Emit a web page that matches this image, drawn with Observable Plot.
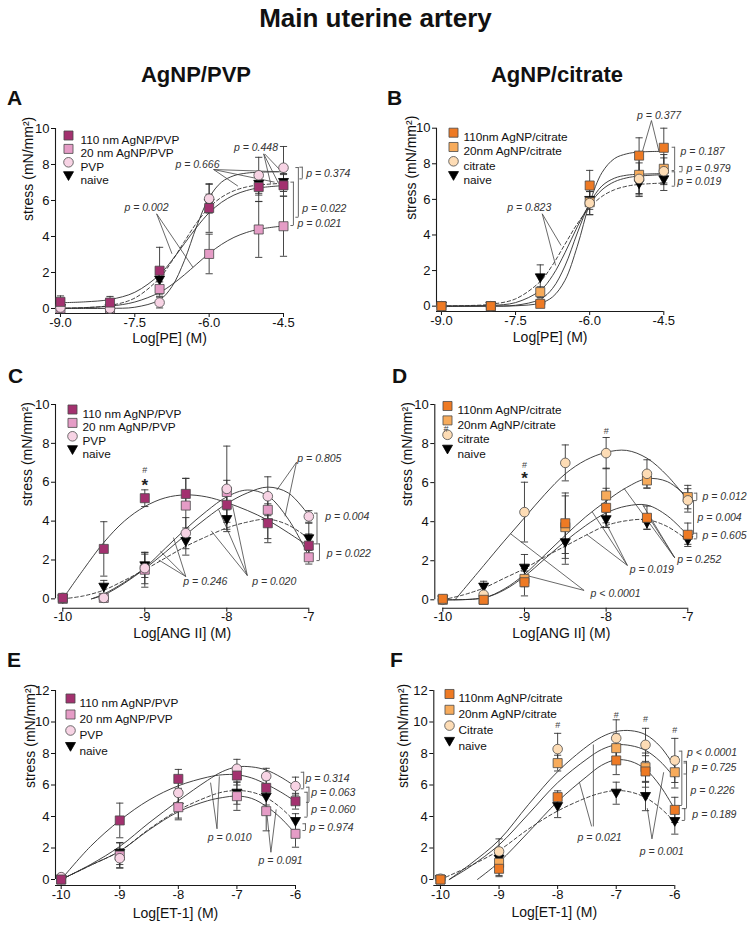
<!DOCTYPE html>
<html>
<head>
<meta charset="utf-8">
<script src="https://cdn.jsdelivr.net/npm/d3@7"></script>
<script src="https://cdn.jsdelivr.net/npm/@observablehq/plot@0.6"></script>
<style>
  body { margin: 0; background: #fff; }
  #fig { position: relative; width: 751px; height: 931px; background: #fff; overflow: hidden;
         font-family: "Liberation Sans", Arial, Helvetica, sans-serif; color: #111; }
  .abs { position: absolute; white-space: nowrap; line-height: 1; }
  .title { font-weight: bold; font-size: 26px; left: 0; width: 751px; text-align: center; top: 5px; }
  .head { font-weight: bold; font-size: 22px; width: 220px; text-align: center; top: 64px; }
  .letter { font-weight: bold; font-size: 21px; }
  .panel { position: absolute; }
  .panel svg { overflow: visible; }
</style>
</head>
<body>
<div id="fig">
  <div class="abs title">Main uterine artery</div>
  <div class="abs head" style="left:86px">AgNP/PVP</div>
  <div class="abs head" style="left:447px">AgNP/citrate</div>
  <div class="abs letter" style="left:7px;top:87px">A</div>
  <div class="abs letter" style="left:387px;top:87px">B</div>
  <div class="abs letter" style="left:8px;top:365px">C</div>
  <div class="abs letter" style="left:392px;top:365px">D</div>
  <div class="abs letter" style="left:7px;top:649px">E</div>
  <div class="abs letter" style="left:390px;top:649px">F</div>
  <div id="pA" class="panel" style="left:0px;top:110px"></div>
  <div id="pB" class="panel" style="left:370px;top:110px"></div>
  <div id="pC" class="panel" style="left:0px;top:385px"></div>
  <div id="pD" class="panel" style="left:370px;top:385px"></div>
  <div id="pE" class="panel" style="left:0px;top:670px"></div>
  <div id="pF" class="panel" style="left:370px;top:670px"></div>
</div>
<script>
// ======================= DATA =======================
// Series labels
const pvpLabels = ["110 nm AgNP/PVP", "20 nm AgNP/PVP", "PVP", "naive"];
const citLabels = ["110nm AgNP/citrate", "20nm AgNP/citrate", "citrate", "naive"];
const citLabelsF = ["110nm AgNP/citrate", "20nm AgNP/citrate", "Citrate", "naive"];

// Tick labels
const peTicks = [-9, -7.5, -6, -4.5];
const angTicks = [-10, -9, -8, -7];
const etTicks = [-10, -9, -8, -7, -6];
const stress10Ticks = [0, 2, 4, 6, 8, 10];
const stress12Ticks = [0, 2, 4, 6, 8, 10, 12];

// ---- Panel A: PE, AgNP/PVP ----
const peDoses = [-9, -8, -7, -6, -5, -4.5];
const A_110 = [0.37, 0.33, 2.10, 5.58, 6.75, 6.84];
const A_110_sem = [0.33, 0.34, 1.30, 1.35, 0.80, 0.60];
const A_20 = [0.00, 0.00, 1.08, 3.03, 4.39, 4.57];
const A_20_sem = [0.05, 0.05, 0.40, 1.10, 1.55, 1.67];
const A_pvp = [0.05, 0.00, 0.33, 6.10, 7.40, 7.82];
const A_pvp_sem = [0.05, 0.05, 0.30, 0.80, 1.00, 1.18];
const A_naive = [0.00, 0.00, 1.58, 5.85, 6.90, 7.00];
const A_naive_sem = [0.05, 0.05, 0.50, 0.50, 0.60, 0.50];
const peFitX = [-9, -8.5, -8, -7.5, -7, -6.75, -6.5, -6.25, -6, -5.75, -5.5, -5.25, -5, -4.5];
const A_110_fit = [0.32, 0.37, 0.50, 0.90, 1.88, 2.68, 3.60, 4.52, 5.32, 5.90, 6.30, 6.55, 6.70, 6.83];
const A_20_fit = [0.02, 0.05, 0.13, 0.36, 0.89, 1.33, 1.87, 2.47, 3.06, 3.56, 3.95, 4.22, 4.40, 4.59];
const A_pvp_fit = [0.00, 0.00, 0.01, 0.07, 0.48, 1.22, 2.66, 4.58, 6.16, 7.02, 7.38, 7.52, 7.57, 7.60];
const A_naive_fit = [0.01, 0.05, 0.17, 0.58, 1.69, 2.63, 3.72, 4.77, 5.61, 6.18, 6.54, 6.75, 6.86, 6.96];

// ---- Panel B: PE, AgNP/citrate ----
const B_110 = [0.00, 0.00, 0.13, 6.78, 8.46, 8.90];
const B_110_sem = [0.05, 0.05, 0.10, 0.85, 1.00, 1.10];
const B_20 = [0.00, 0.00, 0.79, 5.84, 7.38, 7.72];
const B_20_sem = [0.05, 0.05, 0.30, 0.70, 1.05, 0.80];
const B_cit = [0.00, 0.00, 0.19, 5.79, 7.15, 7.58];
const B_cit_sem = [0.05, 0.05, 0.15, 0.65, 0.90, 0.75];
const B_naive = [0.00, 0.00, 1.59, 5.94, 6.87, 7.10];
const B_naive_sem = [0.05, 0.05, 0.73, 0.50, 0.71, 0.60];
const B_110_fit = [0.00, 0.00, 0.00, 0.02, 0.17, 0.52, 1.45, 3.37, 5.80, 7.51, 8.29, 8.56, 8.66, 8.70];
const B_20_fit = [0.00, 0.01, 0.04, 0.20, 0.88, 1.72, 3.00, 4.46, 5.72, 6.54, 6.99, 7.21, 7.31, 7.39];
const B_cit_fit = [0.00, 0.00, 0.01, 0.05, 0.39, 1.00, 2.26, 4.11, 5.78, 6.76, 7.19, 7.36, 7.41, 7.45];
const B_naive_fit = [0.01, 0.03, 0.11, 0.41, 1.39, 2.32, 3.48, 4.63, 5.55, 6.17, 6.54, 6.74, 6.84, 6.92];

// ---- Panel C: ANG II, AgNP/PVP ----
const angDoses = [-10, -9.5, -9, -8.5, -8, -7.5, -7];
const C_110 = [0.05, 2.57, 5.18, 5.40, 4.84, 3.89, 2.74];
const C_110_sem = [0.05, 1.40, 0.43, 0.80, 0.90, 1.00, 0.60];
const C_20 = [0.00, 0.05, 1.50, 4.80, 5.50, 4.58, 2.14];
const C_20_sem = [0.05, 0.10, 0.90, 1.40, 0.60, 0.80, 0.35];
const C_pvp = [0.05, 0.05, 1.58, 3.38, 5.66, 5.28, 4.24];
const C_pvp_sem = [0.05, 0.10, 0.80, 0.80, 2.20, 1.00, 0.30];
const C_naive = [0.00, 0.60, 1.70, 2.95, 4.08, 3.90, 3.09];
const C_naive_sem = [0.05, 0.35, 0.60, 0.70, 0.50, 0.80, 0.80];
const angFitX = [-10, -9.75, -9.5, -9.25, -9, -8.75, -8.5, -8.25, -8, -7.75, -7.5, -7.25, -7];
const angFitXLate = [-9.65, -9.5, -9.25, -9, -8.75, -8.5, -8.25, -8, -7.75, -7.5, -7.25, -7];
const C_110_fit = [0.00, 1.50, 2.90, 4.00, 4.75, 5.20, 5.35, 5.25, 4.95, 4.55, 4.05, 3.40, 2.70];
const C_20_fit = [0.00, 0.25, 0.85, 1.60, 2.60, 3.60, 4.50, 5.25, 5.60, 5.30, 4.10, 2.20];
const C_pvp_fit = [0.00, 0.20, 0.80, 1.55, 2.40, 3.30, 4.15, 4.90, 5.45, 5.75, 5.45, 4.30];
const C_naive_fit = [0.00, 0.15, 0.45, 0.95, 1.50, 2.10, 2.70, 3.20, 3.65, 3.95, 4.10, 3.80, 3.10];

// ---- Panel D: ANG II, AgNP/citrate ----
const D_110 = [0.05, 0.00, 0.90, 3.92, 4.71, 4.20, 3.33];
const D_110_sem = [0.05, 0.05, 0.70, 1.55, 1.00, 0.60, 0.60];
const D_20 = [0.00, 0.00, 1.07, 3.72, 5.34, 6.11, 5.26];
const D_20_sem = [0.05, 0.05, 0.40, 1.60, 1.40, 0.40, 0.60];
const D_cit = [0.00, 0.26, 4.49, 7.01, 7.51, 6.45, 5.09];
const D_cit_sem = [0.05, 0.10, 1.53, 0.92, 0.80, 0.72, 0.60];
const D_naive = [0.00, 0.65, 1.62, 2.92, 4.10, 3.92, 3.04];
const D_naive_sem = [0.05, 0.30, 0.70, 1.10, 0.40, 0.30, 0.20];
const angFitXD = [-10, -9.5, -9.25, -9, -8.75, -8.5, -8.25, -8, -7.75, -7.5, -7.25, -7];
const angFitXCit = [-9.85, -9.5, -9.25, -9, -8.75, -8.5, -8.25, -8, -7.75, -7.5, -7.25, -7];
const D_110_fit = [0.00, 0.10, 0.50, 1.20, 2.10, 3.00, 3.80, 4.45, 4.80, 4.85, 4.30, 3.30];
const D_20_fit = [0.00, 0.10, 0.55, 1.30, 2.30, 3.30, 4.25, 5.05, 5.75, 6.20, 6.05, 5.25];
const D_cit_fit = [0.00, 1.75, 3.00, 4.20, 5.40, 6.45, 7.15, 7.55, 7.65, 7.25, 6.35, 5.10];
const D_naive_fit = [0.00, 0.25, 0.60, 1.10, 1.60, 2.20, 2.75, 3.30, 3.80, 4.05, 4.10, 3.75, 3.05];

// ---- Panel E: ET-1, AgNP/PVP ----
const etDoses = [-10, -9, -8, -7, -6.5, -6];
const E_110 = [0.00, 3.75, 6.39, 6.60, 5.82, 4.97];
const E_110_sem = [0.05, 1.10, 0.60, 0.60, 0.50, 0.50];
const E_20 = [0.00, 1.52, 4.59, 5.29, 4.34, 2.90];
const E_20_sem = [0.05, 0.80, 0.80, 0.90, 1.25, 0.85];
const E_pvp = [0.15, 1.35, 5.50, 7.03, 6.56, 5.93];
const E_pvp_sem = [0.05, 0.60, 0.90, 0.60, 0.50, 0.57];
const E_naive = [0.00, 1.65, 4.60, 5.48, 5.23, 3.68];
const E_naive_sem = [0.05, 0.70, 0.70, 0.70, 0.50, 0.50];
const etFitX = [-10, -9.5, -9, -8.5, -8, -7.5, -7.25, -7, -6.75, -6.5, -6.25, -6];
const E_110_fit = [0.00, 2.10, 3.75, 5.05, 5.95, 6.50, 6.65, 6.65, 6.45, 6.05, 5.55, 4.95];
const E_20_fit = [0.00, 0.90, 1.80, 3.15, 4.30, 5.00, 5.20, 5.30, 5.15, 4.65, 3.90, 2.90];
const E_pvp_fit = [0.00, 0.95, 2.10, 3.60, 5.00, 6.30, 6.85, 7.15, 7.15, 6.95, 6.50, 5.90];
const E_naive_fit = [0.00, 0.90, 1.80, 3.20, 4.40, 5.25, 5.55, 5.65, 5.55, 5.20, 4.55, 3.65];

// ---- Panel F: ET-1, AgNP/citrate ----
const F_110 = [0.00, 0.68, 5.23, 7.56, 6.86, 4.42];
const F_110_sem = [0.05, 0.50, 0.40, 0.90, 1.00, 0.80];
const F_20 = [0.00, 1.06, 7.39, 8.34, 7.13, 6.81];
const F_20_sem = [0.05, 0.80, 0.50, 0.90, 0.90, 1.00];
const F_cit = [0.05, 1.78, 8.28, 8.97, 8.55, 7.56];
const F_cit_sem = [0.05, 0.80, 1.00, 1.17, 1.05, 1.40];
const F_naive = [0.00, 1.30, 4.63, 5.48, 5.27, 3.68];
const F_naive_sem = [0.05, 0.60, 0.70, 0.70, 0.90, 0.80];
const etFitXCit = [-9.85, -9.5, -9, -8.5, -8, -7.5, -7.25, -7, -6.75, -6.5, -6.25, -6];
const etFitX110 = [-9.37, -9, -8.5, -8, -7.5, -7.25, -7, -6.75, -6.5, -6.25, -6];
const F_110_fit = [0.00, 1.10, 3.00, 4.95, 6.55, 7.25, 7.60, 7.50, 7.00, 5.95, 4.45];
const F_20_fit = [0.00, 0.80, 2.20, 4.15, 6.15, 7.65, 8.25, 8.55, 8.50, 8.20, 7.50, 6.45];
const F_cit_fit = [0.00, 0.95, 2.50, 4.75, 6.85, 8.45, 9.05, 9.40, 9.45, 9.20, 8.45, 7.15];
const F_naive_fit = [0.00, 0.85, 1.85, 3.20, 4.35, 5.20, 5.50, 5.65, 5.55, 5.20, 4.55, 3.65];

// ---- Annotations (p values, connector lines, brackets, significance marks) ----
const A_p = [{x: -5.50, y: 8.96, t: "p = 0.448"}, {x: -6.68, y: 7.98, t: "p = 0.666"}, {x: -7.71, y: 5.63, t: "p = 0.002"},
             {x: -4.04, y: 7.48, t: "p = 0.374"}, {x: -4.12, y: 5.57, t: "p = 0.022"}, {x: -4.22, y: 4.70, t: "p = 0.021"}];
const A_links = [{x1: -4.90, y1: 8.59, x2: -4.76, y2: 6.95}, {x1: -4.90, y1: 8.59, x2: -4.60, y2: 6.95}, {x1: -4.88, y1: 8.59, x2: -4.52, y2: 7.55},
                 {x1: -5.91, y1: 7.72, x2: -5.42, y2: 6.80}, {x1: -5.91, y1: 7.72, x2: -4.68, y2: 7.02}, {x1: -5.91, y1: 7.72, x2: -4.60, y2: 7.60},
                 {x1: -7.06, y1: 5.26, x2: -6.75, y2: 3.04}, {x1: -7.06, y1: 5.26, x2: -6.33, y2: 2.30}];
const A_brackets = [{x: -4.12, y1: 7.85, y2: 7.20}, {x: -4.20, y1: 7.83, y2: 5.07}, {x: -4.30, y1: 7.02, y2: 4.61}];

const B_p = [{x: -5.04, y: 10.71, t: "p = 0.377"}, {x: -7.67, y: 5.56, t: "p = 0.823"}, {x: -4.16, y: 8.71, t: "p = 0.187"},
             {x: -4.04, y: 7.72, t: "p = 0.979"}, {x: -4.23, y: 7.00, t: "p = 0.019"}];
const B_links = [{x1: -4.75, y1: 10.43, x2: -4.93, y2: 8.72}, {x1: -4.75, y1: 10.43, x2: -4.60, y2: 8.72},
                 {x1: -6.96, y1: 5.19, x2: -6.58, y2: 3.41}, {x1: -6.96, y1: 5.19, x2: -6.69, y2: 2.29}];
const B_brackets = [{x: -4.28, y1: 8.93, y2: 7.62}, {x: -4.28, y1: 7.55, y2: 6.74}, {x: -4.13, y1: 7.85, y2: 7.55}];

const C_p = [{x: -7.14, y: 7.24, t: "p = 0.805"}, {x: -6.80, y: 4.24, t: "p = 0.004"}, {x: -6.78, y: 2.32, t: "p = 0.022"},
             {x: -8.53, y: 0.91, t: "p = 0.246"}, {x: -7.69, y: 0.91, t: "p = 0.020"}];
const C_links = [{x1: -7.15, y1: 7.03, x2: -7.39, y2: 5.60}, {x1: -7.15, y1: 7.03, x2: -7.29, y2: 4.25},
                 {x1: -8.50, y1: 1.15, x2: -8.83, y2: 2.00}, {x1: -8.50, y1: 1.15, x2: -8.81, y2: 2.45}, {x1: -8.50, y1: 1.15, x2: -8.65, y2: 3.15},
                 {x1: -7.75, y1: 1.20, x2: -8.19, y2: 3.50}, {x1: -7.75, y1: 1.20, x2: -8.10, y2: 4.60}, {x1: -7.75, y1: 1.20, x2: -7.93, y2: 4.80}];
const C_brackets = [{x: -6.90, y1: 4.41, y2: 2.83}, {x: -6.87, y1: 2.83, y2: 1.97}];
const C_hash = [{x: -9, y: 6.6}];
const C_star = [{x: -9, y: 5.85}];

const D_p = [{x: -6.82, y: 5.29, t: "p = 0.012"}, {x: -6.88, y: 4.23, t: "p = 0.004"}, {x: -6.82, y: 3.31, t: "p = 0.605"},
             {x: -7.13, y: 2.05, t: "p = 0.252"}, {x: -7.71, y: 1.54, t: "p = 0.019"}, {x: -8.19, y: 0.31, t: "p < 0.0001"}];
const D_links = [{x1: -7.16, y1: 2.15, x2: -7.78, y2: 5.70}, {x1: -7.16, y1: 2.15, x2: -7.55, y2: 4.85}, {x1: -7.16, y1: 2.15, x2: -7.45, y2: 4.05},
                 {x1: -7.74, y1: 1.76, x2: -8.17, y2: 4.50}, {x1: -7.74, y1: 1.76, x2: -8.05, y2: 4.33}, {x1: -7.74, y1: 1.76, x2: -8.24, y2: 3.35},
                 {x1: -8.27, y1: 0.48, x2: -9.17, y2: 3.38}, {x1: -8.27, y1: 0.48, x2: -8.97, y2: 1.24}];
const D_brackets = [{x: -6.89, y1: 5.46, y2: 5.08}, {x: -6.93, y1: 5.08, y2: 3.34}, {x: -6.89, y1: 3.41, y2: 3.12}];
const D_hash = [{x: -9, y: 6.88}, {x: -8, y: 8.63}, {x: -9.96, y: 8.75}];
const D_star = [{x: -9, y: 6.2}];

const E_p = [{x: -5.83, y: 6.39, t: "p = 0.314"}, {x: -5.73, y: 5.54, t: "p = 0.063"}, {x: -5.73, y: 4.42, t: "p = 0.060"},
             {x: -5.76, y: 3.32, t: "p = 0.974"}, {x: -7.50, y: 2.69, t: "p = 0.010"}, {x: -6.63, y: 1.21, t: "p = 0.091"}];
const E_links = [{x1: -7.34, y1: 3.22, x2: -7.45, y2: 6.15}, {x1: -7.34, y1: 3.22, x2: -7.30, y2: 6.55},
                 {x1: -6.42, y1: 1.73, x2: -6.50, y2: 4.60}, {x1: -6.42, y1: 1.73, x2: -6.33, y2: 4.45}];
const E_brackets = [{x: -5.86, y1: 6.81, y2: 5.76}, {x: -5.77, y1: 5.86, y2: 4.90}, {x: -5.80, y1: 5.54, y2: 3.96}, {x: -5.83, y1: 3.54, y2: 3.11}];

const F_p = [{x: -5.79, y: 8.08, t: "p < 0.0001"}, {x: -5.70, y: 7.13, t: "p = 0.725"}, {x: -5.73, y: 5.65, t: "p = 0.226"},
             {x: -5.70, y: 4.13, t: "p = 0.189"}, {x: -7.66, y: 2.69, t: "p = 0.021"}, {x: -6.60, y: 1.80, t: "p = 0.001"}];
const F_links = [{x1: -7.42, y1: 3.37, x2: -7.63, y2: 6.20}, {x1: -7.39, y1: 3.37, x2: -7.39, y2: 8.57},
                 {x1: -6.39, y1: 2.58, x2: -6.47, y2: 4.53}, {x1: -6.39, y1: 2.58, x2: -6.19, y2: 6.81}];
const F_brackets = [{x: -5.88, y1: 8.15, y2: 4.70}, {x: -5.80, y1: 7.50, y2: 6.70}, {x: -5.80, y1: 7.40, y2: 4.50}, {x: -5.83, y1: 4.50, y2: 3.75}];
const F_hash = [{x: -8, y: 9.78}, {x: -7, y: 10.41}, {x: -6.5, y: 10.16}, {x: -6, y: 9.46}];

// ======================= STYLES =======================
const FONT = "Liberation Sans, Arial, Helvetica, sans-serif";
const AXIS = "#1a1a1a", LINE = "#2e2e2e", ERR = "#333", MSTROKE = "#4a4a4a";
const PVP_COLORS = ["#a3316f", "#e59cc6", "#f7d3e4", "#000"];
const CIT_COLORS = ["#ee7a24", "#f7ab5b", "#fddcb5", "#000"];

const capSym = {draw(ctx, size) { const r = Math.sqrt(size / Math.PI); ctx.moveTo(-r, 0); ctx.lineTo(r, 0); }};
const tickLeftSym = {draw(ctx, size) { const r = Math.sqrt(size / Math.PI); ctx.moveTo(-r, 0); ctx.lineTo(0, 0); }};
const triDown = {draw(ctx, size) {
  const r = Math.sqrt(size / Math.PI);
  ctx.moveTo(-r, -r * 0.8); ctx.lineTo(r, -r * 0.8); ctx.lineTo(0, r * 0.95); ctx.closePath();
}};
const SYMBOLS = ["square", "square", "circle", triDown];
const RADII = [5.1, 5.1, 4.8, 5.0];

function makeSeries(labels, colors, vals, sems, fitXs, fitYs) {
  return labels.map((name, i) => ({
    name, fill: colors[i], symbol: SYMBOLS[i], r: RADII[i], dashed: i === 3,
    y: vals[i], sem: sems[i], fitX: fitXs[i], fitY: fitYs[i]
  }));
}

function buildPanel(P) {
  const marks = [];
  const yTop = P.yTicks[P.yTicks.length - 1];
  const xEnd = P.xTicks[P.xTicks.length - 1];
  marks.push(Plot.ruleX([P.xDomain[0]], {y1: 0, y2: yTop, stroke: AXIS, strokeWidth: 1.1}));
  marks.push(Plot.ruleY([P.yDomain[0]], {x1: P.xAxisFrom, x2: xEnd, stroke: AXIS, strokeWidth: 1.1}));
  // fitted curves
  for (const s of P.series) {
    const fit = s.fitX.map((x, i) => ({x, y: s.fitY[i]}));
    marks.push(Plot.line(fit, {x: "x", y: "y", curve: "catmull-rom", stroke: LINE, strokeWidth: 0.9,
      strokeDasharray: s.dashed ? "3.5,2.5" : null}));
  }
  // p-value connectors and brackets
  marks.push(Plot.link(P.links, {x1: "x1", y1: "y1", x2: "x2", y2: "y2", stroke: "#444", strokeWidth: 0.8}));
  marks.push(Plot.ruleX(P.brackets, {x: "x", y1: "y1", y2: "y2", stroke: "#555", strokeWidth: 0.9}));
  marks.push(Plot.dot(P.brackets, {x: "x", y: "y1", symbol: tickLeftSym, r: 3, stroke: "#555", fill: "none", strokeWidth: 0.9}));
  marks.push(Plot.dot(P.brackets, {x: "x", y: "y2", symbol: tickLeftSym, r: 3, stroke: "#555", fill: "none", strokeWidth: 0.9}));
  // error bars
  for (const s of P.series) {
    const pts = P.doses.map((x, i) => ({x, y: s.y[i], e: s.sem[i]}));
    marks.push(Plot.ruleX(pts, {x: "x", y1: d => d.y - d.e, y2: d => d.y + d.e, stroke: ERR, strokeWidth: 0.9}));
    marks.push(Plot.dot(pts, {x: "x", y: d => d.y + d.e, symbol: capSym, r: 3.6, stroke: ERR, fill: "none", strokeWidth: 0.9}));
    marks.push(Plot.dot(pts, {x: "x", y: d => d.y - d.e, symbol: capSym, r: 3.6, stroke: ERR, fill: "none", strokeWidth: 0.9}));
  }
  // markers (naive, 20 nm, vehicle, 110 nm on top)
  for (const k of [3, 1, 2, 0]) {
    const s = P.series[k];
    const pts = P.doses.map((x, i) => ({x, y: s.y[i]}));
    marks.push(Plot.dot(pts, {x: "x", y: "y", symbol: s.symbol, r: s.r, fill: s.fill,
      stroke: k === 3 ? "#000" : MSTROKE, strokeWidth: 0.8}));
  }
  // legend
  P.series.forEach((s, i) => {
    const dy = P.legend.dy + i * P.legend.step;
    marks.push(Plot.dot([s.name], {frameAnchor: "top-left", dx: P.legend.dx, dy, symbol: s.symbol, r: s.r,
      fill: s.fill, stroke: i === 3 ? "#000" : MSTROKE, strokeWidth: 0.8}));
    marks.push(Plot.text([s.name], {frameAnchor: "top-left", dx: P.legend.tx, dy, text: d => d,
      textAnchor: "start", fontSize: 11.8, fill: "#111"}));
  });
  // text annotations
  marks.push(Plot.text(P.pLabels, {x: "x", y: "y", text: "t", textAnchor: "start", fontStyle: "italic", fontSize: 10.5, fill: "#333"}));
  if (P.hash) marks.push(Plot.text(P.hash, {x: "x", y: "y", text: () => "#", fontSize: 9, fill: "#444"}));
  if (P.star) marks.push(Plot.text(P.star, {x: "x", y: "y", text: () => "*", fontSize: 17, fontWeight: "bold", fill: "#222"}));
  // axis titles
  marks.push(Plot.text([P.xTitle], {frameAnchor: "bottom", dy: P.xTitleDy, text: d => d, fontSize: 14, fill: "#111"}));
  marks.push(Plot.text([P.yTitle], {frameAnchor: "left", dx: P.yTitleDx, rotate: -90, text: d => d, fontSize: 14, fill: "#111"}));

  return Plot.plot({
    width: P.width, height: P.height,
    marginLeft: P.m[0], marginRight: P.m[1], marginTop: P.m[2], marginBottom: P.m[3],
    style: {fontFamily: FONT, fontSize: "13px", background: "transparent", color: "#111", overflow: "visible"},
    x: {domain: P.xDomain, ticks: P.xTicks, tickFormat: P.xFmt, tickSize: 4, tickPadding: 0, label: null},
    y: {domain: P.yDomain, ticks: P.yTicks, tickFormat: d => String(d), tickSize: 4, tickPadding: 2, label: null},
    marks
  });
}

const yTitle = "stress (mN/mm²)";

const panels = [
  {id: "pA", width: 370, height: 250, m: [55, 87, 18, 47], xDomain: [-9.1, -4.5], yDomain: [-0.278, 10],
   xTicks: peTicks, yTicks: stress10Ticks, xFmt: d => d.toFixed(1), xAxisFrom: -9.1, doses: peDoses,
   series: makeSeries(pvpLabels, PVP_COLORS, [A_110, A_20, A_pvp, A_naive], [A_110_sem, A_20_sem, A_pvp_sem, A_naive_sem],
     [peFitX, peFitX, peFitX, peFitX], [A_110_fit, A_20_fit, A_pvp_fit, A_naive_fit]),
   pLabels: A_p, links: A_links, brackets: A_brackets,
   legend: {dx: 13, tx: 25, dy: 7, step: 13.4}, xTitle: "Log[PE] (M)", xTitleDy: 29.5, yTitle, yTitleDx: -27},
  {id: "pB", width: 381, height: 250, m: [66, 87.7, 17.7, 49], xDomain: [-9.1, -4.5], yDomain: [-0.3, 10],
   xTicks: peTicks, yTicks: stress10Ticks, xFmt: d => d.toFixed(1), xAxisFrom: -9.1, doses: peDoses,
   series: makeSeries(citLabels, CIT_COLORS, [B_110, B_20, B_cit, B_naive], [B_110_sem, B_20_sem, B_cit_sem, B_naive_sem],
     [peFitX, peFitX, peFitX, peFitX], [B_110_fit, B_20_fit, B_cit_fit, B_naive_fit]),
   pLabels: B_p, links: B_links, brackets: B_brackets,
   legend: {dx: 17, tx: 27, dy: 4.5, step: 14.3}, xTitle: "Log[PE] (M)", xTitleDy: 30.5, yTitle, yTitleDx: -24.5},
  {id: "pC", width: 370, height: 265, m: [55, 61.7, 19, 42.3], xDomain: [-10.089, -7], yDomain: [-0.48, 10],
   xTicks: angTicks, yTicks: stress10Ticks, xFmt: d => String(d), xAxisFrom: -10, doses: angDoses,
   series: makeSeries(pvpLabels, PVP_COLORS, [C_110, C_20, C_pvp, C_naive], [C_110_sem, C_20_sem, C_pvp_sem, C_naive_sem],
     [angFitX, angFitXLate, angFitXLate, angFitX], [C_110_fit, C_20_fit, C_pvp_fit, C_naive_fit]),
   pLabels: C_p, links: C_links, brackets: C_brackets, hash: C_hash, star: C_star,
   legend: {dx: 17, tx: 27, dy: 5, step: 13.4}, xTitle: "Log[ANG II] (M)", xTitleDy: 30, yTitle, yTitleDx: -28},
  {id: "pD", width: 381, height: 265, m: [64.3, 63.7, 19, 42.3], xDomain: [-10.098, -7], yDomain: [-0.43, 10],
   xTicks: angTicks, yTicks: stress10Ticks, xFmt: d => String(d), xAxisFrom: -10, doses: angDoses,
   series: makeSeries(citLabels, CIT_COLORS, [D_110, D_20, D_cit, D_naive], [D_110_sem, D_20_sem, D_cit_sem, D_naive_sem],
     [angFitXD, angFitXD, angFitXCit, angFitX], [D_110_fit, D_20_fit, D_cit_fit, D_naive_fit]),
   pLabels: D_p, links: D_links, brackets: D_brackets, hash: D_hash, star: D_star,
   legend: {dx: 12.7, tx: 22.7, dy: 1.5, step: 14.4}, xTitle: "Log[ANG II] (M)", xTitleDy: 30, yTitle, yTitleDx: -27.5},
  {id: "pE", width: 370, height: 261, m: [55, 75, 20, 46], xDomain: [-10.097, -6], yDomain: [-0.38, 12],
   xTicks: etTicks, yTicks: stress12Ticks, xFmt: d => String(d), xAxisFrom: -10.097, doses: etDoses,
   series: makeSeries(pvpLabels, PVP_COLORS, [E_110, E_20, E_pvp, E_naive], [E_110_sem, E_20_sem, E_pvp_sem, E_naive_sem],
     [etFitX, etFitX, etFitX, etFitX], [E_110_fit, E_20_fit, E_pvp_fit, E_naive_fit]),
   pLabels: E_p, links: E_links, brackets: E_brackets,
   legend: {dx: 15, tx: 24, dy: 8, step: 16}, xTitle: "Log[ET-1] (M)", xTitleDy: 32, yTitle, yTitleDx: -24.5},
  {id: "pF", width: 381, height: 261, m: [63.3, 76.7, 20, 46], xDomain: [-10.114, -6], yDomain: [-0.38, 12],
   xTicks: etTicks, yTicks: stress12Ticks, xFmt: d => String(d), xAxisFrom: -10.114, doses: etDoses,
   series: makeSeries(citLabelsF, CIT_COLORS, [F_110, F_20, F_cit, F_naive], [F_110_sem, F_20_sem, F_cit_sem, F_naive_sem],
     [etFitX110, etFitXCit, etFitXCit, etFitX], [F_110_fit, F_20_fit, F_cit_fit, F_naive_fit]),
   pLabels: F_p, links: F_links, brackets: F_brackets, hash: F_hash,
   legend: {dx: 15.7, tx: 24.7, dy: 3.5, step: 15.8}, xTitle: "Log[ET-1] (M)", xTitleDy: 31, yTitle, yTitleDx: -30.5}
];

for (const P of panels) {
  document.getElementById(P.id).appendChild(buildPanel(P));
}
</script>
</body>
</html>
